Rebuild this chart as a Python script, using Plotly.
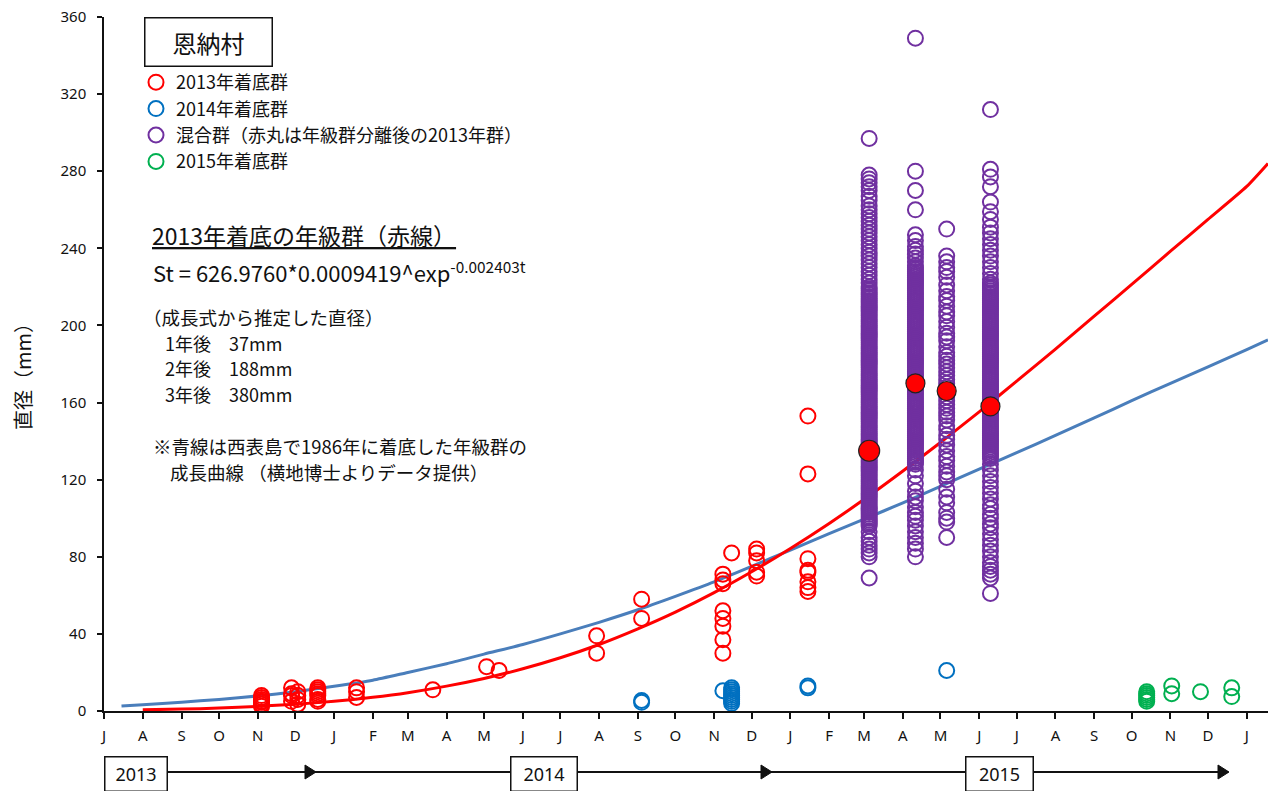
import plotly.graph_objects as go

# ---- axis ticks -------------------------------------------------------------
tick_dates = ["2013-07-01", "2013-08-01", "2013-09-01", "2013-10-01", "2013-11-01", "2013-12-01",
              "2014-01-01", "2014-02-01", "2014-03-01", "2014-04-01", "2014-05-01", "2014-06-01",
              "2014-07-01", "2014-08-01", "2014-09-01", "2014-10-01", "2014-11-01", "2014-12-01",
              "2015-01-01", "2015-02-01", "2015-03-01", "2015-04-01", "2015-05-01", "2015-06-01",
              "2015-07-01", "2015-08-01", "2015-09-01", "2015-10-01", "2015-11-01", "2015-12-01",
              "2016-01-01"]
tick_letters = ["J", "A", "S", "O", "N", "D", "J", "F", "M", "A", "M", "J", "J", "A", "S", "O",
                "N", "D", "J", "F", "M", "A", "M", "J", "J", "A", "S", "O", "N", "D", "J"]
y_ticks = [0, 40, 80, 120, 160, 200, 240, 280, 320, 360]

# ---- growth curves ----------------------------------------------------------
red_curve_dates = ["2013-08-01", "2013-09-01", "2013-10-01", "2013-11-01", "2013-12-01",
                   "2014-01-01", "2014-02-01", "2014-03-01", "2014-04-01", "2014-05-01", "2014-06-01",
                   "2014-07-01", "2014-08-01", "2014-09-01", "2014-10-01", "2014-11-01", "2014-12-01",
                   "2015-01-01", "2015-02-01", "2015-03-01", "2015-04-01", "2015-05-01", "2015-06-01",
                   "2015-07-01", "2015-08-01", "2015-09-01", "2015-10-01", "2015-11-01", "2015-12-01",
                   "2016-01-01", "2016-01-18"]
red_curve_vals = [0.6, 1.0, 1.5, 2.4, 3.5, 5.0, 7.1, 9.5, 12.9, 16.9, 21.9, 27.6, 34.5, 42.6, 51.3,
                  61.4, 72.2, 84.3, 97.3, 109.8, 124.5, 139.3, 155.2, 171.1, 187.7, 204.8, 221.3,
                  238.5, 255.0, 272.1, 284.0]

blue_curve_dates = ["2013-07-15", "2013-08-01", "2013-09-01", "2013-10-01", "2013-11-01", "2013-12-01",
                    "2014-01-01", "2014-02-01", "2014-03-01", "2014-04-01", "2014-05-01", "2014-06-01",
                    "2014-07-01", "2014-08-01", "2014-09-01", "2014-10-01", "2014-11-01", "2014-12-01",
                    "2015-01-01", "2015-02-01", "2015-03-01", "2015-04-01", "2015-05-01", "2015-06-01",
                    "2015-07-01", "2015-08-01", "2015-09-01", "2015-10-01", "2015-11-01", "2015-12-01",
                    "2016-01-01", "2016-01-18"]
blue_curve_vals = [2.6, 3.3, 4.6, 6.0, 7.8, 10.0, 12.8, 16.0, 20.0, 24.5, 29.5, 34.5, 40.0, 46.0,
                   52.5, 59.5, 67.0, 75.0, 83.5, 92.0, 99.5, 108.0, 116.5, 125.5, 134.0, 143.0,
                   152.0, 161.0, 170.0, 178.5, 187.5, 192.5]

# ---- survey observations (diameter, mm) -------------------------------------
red_obs_dates = ["2013-11-04", "2013-11-28", "2013-12-03", "2013-12-19", "2014-01-19", "2014-03-21",
                 "2014-05-03", "2014-05-13", "2014-07-30", "2014-09-04", "2014-11-08", "2014-11-15",
                 "2014-12-05", "2015-01-15"]
red_obs_vals = [[2.5, 3.5, 4.5, 5, 6, 7, 8], [5, 8, 9, 12], [3.5, 6, 8, 10],
                [5, 6, 8, 9, 10, 11, 12], [7, 10, 12], [11], [23], [21], [30, 39], [48, 58],
                [30, 37, 44, 48, 52, 66, 68, 71], [82], [70, 72, 78, 82, 84],
                [62, 64, 67, 72, 73, 79, 123, 153]]

blue_obs_dates = ["2014-09-04", "2014-11-08", "2014-11-15", "2015-01-15", "2015-05-06"]
blue_obs_vals = [[4.5, 5.5], [10.5], [4, 5, 6, 7, 8, 9, 10, 11, 12], [12, 13], [21]]

green_obs_dates = ["2015-10-13", "2015-11-02", "2015-11-25", "2015-12-20"]
green_obs_vals = [[5, 6, 7, 8, 9, 10], [9, 13], [10], [7.5, 12]]

mixed_dates = ["2015-03-05", "2015-04-11", "2015-05-06", "2015-06-10"]
mixed_mar = [297, 278, 276, 274, 272, 270, 267, 265, 262, 260, 258, 256, 254, 252, 250, 248, 246,
             244, 242, 240, 238, 236, 234, 232, 230, 228, 226, 224, 222, 220,
             219, 218, 217, 216, 215, 214, 213, 212, 211, 210, 209, 208, 207, 206, 205, 204, 203,
             202, 201, 200, 199, 198, 197, 196, 195, 194, 193, 192, 191, 190, 189, 188, 187, 186,
             185, 184, 183, 182, 181, 180, 179, 178, 177, 176, 175, 174, 173, 172, 171, 170, 169,
             168, 167, 166, 165, 164, 163, 162, 161, 160, 159, 158, 157, 156, 155, 154, 153, 152,
             151, 150, 149, 148, 147, 146, 145, 144, 143, 142, 141, 140, 139, 138, 137, 136, 135,
             134, 133, 132, 131, 130, 129, 128, 127, 126, 125, 124, 123, 122, 121, 120, 119, 118,
             117, 116, 115, 114, 113, 112, 111, 110, 109, 108, 107, 106, 105, 104, 103, 102, 101,
             100, 99, 98, 97, 96, 93, 90, 88, 86, 84, 82, 80, 69]
mixed_apr = [349, 280, 270, 260, 247, 244, 241, 239, 237, 235, 233,
             231, 230, 229, 228, 227, 226, 225, 224, 223, 222, 221, 220, 219, 218, 217, 216, 215,
             214, 213, 212, 211, 210, 209, 208, 207, 206, 205, 204, 203, 202, 201, 200, 199, 198,
             197, 196, 195, 194, 193, 192, 191, 190, 189, 188, 187, 186, 185, 184, 183, 182, 181,
             180, 179, 178, 177, 176, 175, 174, 173, 172, 171, 170, 169, 168, 167, 166, 165, 164,
             163, 162, 161, 160, 159, 158, 157, 156, 155, 154, 153, 152, 151, 150, 149, 148, 147,
             146, 145, 144, 143, 142, 141, 140, 139, 138, 137, 136, 135, 134, 133, 132, 131, 130,
             129, 128, 125, 122, 118, 114, 111, 109, 106, 103, 101, 99, 96, 93, 90, 87, 84, 80]
mixed_may = [250, 236, 233, 230, 228, 225, 221, 218, 215, 213, 210, 207, 205, 202, 199, 196, 194,
             192, 189, 186, 184, 182, 180, 178, 176, 174, 172, 170, 168, 166, 163, 161, 159, 157,
             155, 153, 151, 148, 146, 143, 141, 138, 135, 132, 130, 127, 124, 122, 120, 115, 111,
             108, 103, 100, 98, 90]
mixed_jun = [312, 281, 277, 272, 264, 259, 255, 251, 248, 245, 242, 239, 236, 233, 230, 227, 224,
             222, 221, 220, 219, 218, 217, 216, 215, 214, 213, 212, 211, 210, 209, 208, 207, 206,
             205, 204, 203, 202, 201, 200, 199, 198, 197, 196, 195, 194, 193, 192, 191, 190, 189,
             188, 187, 186, 185, 184, 183, 182, 181, 180, 179, 178, 177, 176, 175, 174, 173, 172,
             171, 170, 169, 168, 167, 166, 165, 164, 163, 162, 161, 160, 159, 158, 157, 156, 155,
             154, 153, 152, 151, 150, 149, 148, 147, 146, 145, 144, 143, 142, 141, 140, 139, 138,
             137, 136, 135, 134, 133, 132, 131, 128, 125, 122, 119, 116, 113, 110, 107, 105, 102,
             100, 97, 95, 92, 89, 86, 83, 80, 77, 75, 73, 71, 69, 61]

# 2013 cohort after separating the mixed group (filled red dots)
cohort13_dates = ["2015-03-05", "2015-04-11", "2015-05-06", "2015-06-10"]
cohort13_vals = [135, 170, 166, 158]

# timeline along the bottom
year_labels = ["2013", "2014", "2015"]

JP = "Noto Sans CJK JP"
RED = "#ff0000"
BLUE_LINE = "#4a7ebb"
BLUE = "#0070c0"
PURPLE = "#7030a0"
GREEN = "#00b050"

# plot-area pixel helpers (plot area spans x 104..1268, y 17..711)
L, R, T, B = 104, 3, 17, 80
W, H = 1271, 791
PW, PH = W - L - R, H - T - B


def px_x(px):
    return (px - L) / PW


def px_y(py):
    return (T + PH - py) / PH


def flatten(dates, groups):
    xs, ys = [], []
    for d, vals in zip(dates, groups):
        for v in vals:
            xs.append(d)
            ys.append(v)
    return xs, ys


fig = go.Figure()

# growth curves (drawn underneath the markers)
fig.add_trace(go.Scatter(x=blue_curve_dates, y=blue_curve_vals, mode="lines",
                         line=dict(color=BLUE_LINE, width=3, shape="spline", smoothing=0.6),
                         showlegend=False, hoverinfo="skip"))
fig.add_trace(go.Scatter(x=red_curve_dates, y=red_curve_vals, mode="lines",
                         line=dict(color=RED, width=3, shape="spline", smoothing=0.6),
                         showlegend=False, hoverinfo="skip"))

open_marker = dict(symbol="circle-open", size=15, line=dict(width=2))

rx, ry = flatten(red_obs_dates, red_obs_vals)
fig.add_trace(go.Scatter(x=rx, y=ry, mode="markers", name="2013年着底群",
                         marker=dict(open_marker, color=RED)))
bx, by = flatten(blue_obs_dates, blue_obs_vals)
fig.add_trace(go.Scatter(x=bx, y=by, mode="markers", name="2014年着底群",
                         marker=dict(open_marker, color=BLUE)))
mx, my = flatten(mixed_dates, [mixed_mar, mixed_apr, mixed_may, mixed_jun])
fig.add_trace(go.Scatter(x=mx, y=my, mode="markers", name="混合群（赤丸は年級群分離後の2013年群）",
                         marker=dict(open_marker, color=PURPLE)))
gx, gy = flatten(green_obs_dates, green_obs_vals)
fig.add_trace(go.Scatter(x=gx, y=gy, mode="markers", name="2015年着底群",
                         marker=dict(open_marker, color=GREEN)))

fig.add_trace(go.Scatter(x=cohort13_dates, y=cohort13_vals, mode="markers", showlegend=False,
                         marker=dict(symbol="circle", size=[21, 19, 19, 19], color=RED, opacity=1,
                                     line=dict(color="#222", width=1.2))))

annotations = []


def note(text, px, py, size, anchor="left", **kw):
    annotations.append(dict(text=text, x=px_x(px), y=px_y(py), xref="paper", yref="paper",
                            xanchor=anchor, yanchor="middle", showarrow=False,
                            font=dict(family=JP, size=size, color="#111"), **kw))


# site label box
note("恩納村", 208, 42, 24, anchor="center", bordercolor="#111", borderwidth=1.5,
     borderpad=0, width=126, height=47, bgcolor="white")

note("<u>2013年着底の年級群（赤線）</u>", 150, 235, 23)
note("St = 626.9760*0.0009419^exp<sup>-0.002403t</sup>", 151, 271, 22)
note("（成長式から推定した直径）", 141, 317, 18.5)
note("1年後　37mm", 163, 343, 18)
note("2年後　188mm", 163, 368, 18)
note("3年後　380mm", 163, 394, 18)
note("※青線は西表島で1986年に着底した年級群の", 151, 446, 18.5)
note("成長曲線 （横地博士よりデータ提供）", 168, 472, 18.5)

# y-axis title
note("直径（mm）", 22, 372, 20, anchor="center", textangle=-90)

# year boxes on the timeline
year_box_px = [(104, 168), (510, 578), (965, 1034)]
for label, (x0, x1) in zip(year_labels, year_box_px):
    annotations.append(dict(text=label, x=px_x((x0 + x1) / 2), y=px_y(774), xref="paper",
                            yref="paper", xanchor="center", yanchor="middle", showarrow=False,
                            font=dict(family="Noto Sans", size=18, color="#111"),
                            bordercolor="#111", borderwidth=1.5, borderpad=0,
                            width=x1 - x0 - 3, height=33, bgcolor="white"))

shapes = []
line_y = px_y(772)
for xa, xb in [(168, 510), (578, 965), (1034, 1228)]:
    shapes.append(dict(type="line", xref="paper", yref="paper", x0=px_x(xa), x1=px_x(xb),
                       y0=line_y, y1=line_y, line=dict(color="#111", width=2)))
for tip in [316, 772, 1229]:
    path = "M {a},{ym} L {b},{yt} L {b},{yb} Z".format(
        a=px_x(tip), b=px_x(tip - 11), ym=line_y, yt=px_y(765), yb=px_y(779))
    shapes.append(dict(type="path", xref="paper", yref="paper", path=path,
                       fillcolor="#111", line=dict(color="#111", width=1)))

fig.update_layout(
    width=W, height=H,
    margin=dict(l=L, r=R, t=T, b=B),
    paper_bgcolor="white", plot_bgcolor="white",
    showlegend=True,
    legend=dict(x=px_x(136), y=px_y(64), xanchor="left", yanchor="top",
                font=dict(family=JP, size=18, color="#111"), bgcolor="rgba(0,0,0,0)",
                itemwidth=30, tracegroupgap=0),
    xaxis=dict(type="date", range=["2013-07-01", "2016-01-18"],
               tickmode="array", tickvals=tick_dates, ticktext=tick_letters,
               ticks="outside", ticklen=6, tickwidth=1.5, tickcolor="#111",
               showline=True, linecolor="#111", linewidth=1.5,
               showgrid=False, zeroline=False, ticklabelstandoff=4,
               tickfont=dict(family="Noto Sans", size=15, color="#111")),
    yaxis=dict(range=[0, 360], tickmode="array", tickvals=y_ticks,
               ticks="outside", ticklen=5, tickwidth=1.5, tickcolor="#111",
               showline=True, linecolor="#111", linewidth=1.5,
               showgrid=False, zeroline=False, ticklabelstandoff=8,
               tickfont=dict(family="Noto Sans", size=15, color="#111")),
    annotations=annotations,
    shapes=shapes,
)

fig.write_html("out.html")
